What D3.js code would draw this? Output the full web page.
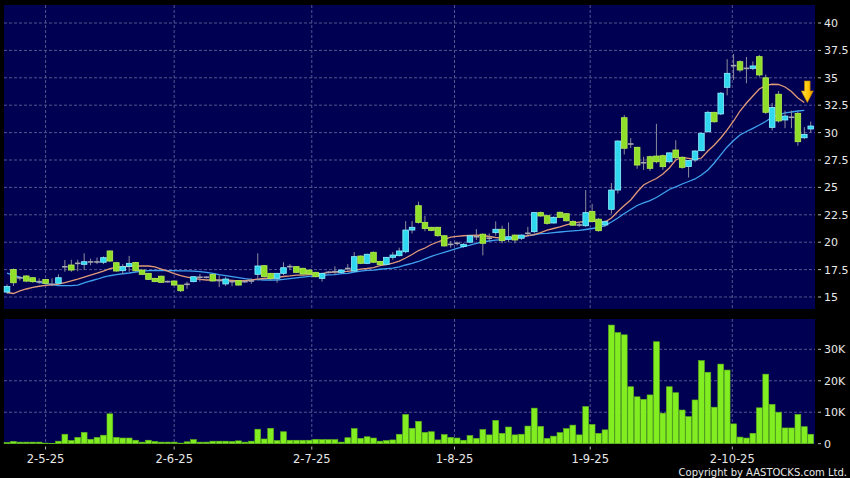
<!DOCTYPE html>
<html><head><meta charset="utf-8">
<script src="https://cdn.jsdelivr.net/npm/d3@7/dist/d3.min.js"></script>
<style>body{margin:0;background:#000;}svg{display:block;}</style>
</head><body>
<svg id="chart" width="850" height="478"></svg>
<script>
// ---- data ----
const opens  = [15.45,17.5,16.75,16.92,16.76,16.4,16.6,16.16,16.25,17.76,17.92,18.07,17.98,18.2,18.2,18.17,19.2,18.13,17.4,17.8,
 18.15,17.46,17.16,16.7,16.9,16.4,16.46,16.09,16.16,16.4,16.8,16.8,17.07,16.5,16.19,16.4,16.49,16.4,16.46,17.07,
 17.86,17.16,16.7,17.16,17.77,17.77,17.62,17.46,17.25,16.7,17.25,17.31,17.25,17.6,17.37,18.74,18.07,19.08,18.25,17.98,
 18.62,18.77,19.13,21.11,23.33,21.81,21.36,21.36,20.59,19.8,19.9,19.6,20.0,20.5,20.73,20.36,20.87,21.18,20.26,20.65,
 20.36,20.81,20.96,22.7,22.42,21.75,22.73,22.6,21.9,21.57,21.5,22.8,22.1,21.57,23.0,24.76,31.36,28.96,28.66,27.25,
 27.8,27.86,27.89,27.34,28.41,27.75,26.9,27.5,28.35,30.08,31.85,31.7,34.13,36.11,36.47,35.86,35.86,36.93,35.0,30.48,
 33.5,31.15,31.4,31.76,29.53,30.33];
const highs  = [16.15,17.6,16.9,17.0,16.8,16.7,16.65,16.7,17.07,18.38,18.4,18.4,18.99,18.5,18.6,18.7,19.25,18.2,18.0,18.75,
 18.2,17.5,17.2,16.75,16.95,16.5,16.5,16.1,16.4,16.9,17.1,16.9,17.1,17.0,16.85,16.45,16.5,16.5,16.7,18.99,
 17.9,17.2,17.2,18.17,18.0,17.8,17.65,17.5,17.3,17.2,17.35,17.8,17.5,18.0,19.1,18.8,18.95,19.15,18.3,18.65,
 19.1,19.5,21.93,21.93,23.7,22.4,21.4,21.4,20.65,20.1,20.05,19.9,20.6,21.2,20.8,20.8,21.9,21.5,21.8,20.7,
 20.7,21.4,22.75,22.8,22.5,22.35,22.8,22.65,22.0,21.8,24.76,23.5,22.2,22.0,25.4,29.3,31.6,29.5,28.7,27.8,
 27.9,30.8,28.0,28.2,29.3,27.8,27.5,28.4,30.0,32.0,31.9,33.7,36.7,37.17,36.6,36.9,36.5,37.1,35.3,32.7,
 33.8,32.0,32.0,31.9,30.5,31.0];
const lows   = [15.3,16.0,16.5,16.35,16.3,16.2,16.15,16.0,16.2,17.31,17.3,17.35,17.46,17.9,18.0,18.0,18.2,17.3,17.1,17.3,
 17.3,17.0,16.55,16.35,16.3,16.3,16.0,15.45,15.75,16.35,16.4,16.7,16.4,15.9,16.0,16.0,16.05,16.3,16.2,16.5,
 16.8,16.5,16.3,17.0,17.5,17.2,17.05,17.05,16.8,16.4,17.15,17.0,17.2,17.4,17.3,18.0,18.0,18.1,17.9,17.9,
 18.4,18.7,19.0,20.8,21.7,21.0,21.0,20.5,19.6,19.5,19.7,19.5,19.9,20.2,18.8,20.1,20.6,19.9,20.0,19.9,
 20.2,20.65,20.8,22.3,21.6,21.7,22.2,21.9,21.5,21.4,21.4,21.8,20.95,21.4,22.6,24.45,28.0,28.6,26.7,26.6,
 26.5,27.2,26.6,27.2,27.6,26.7,25.9,27.3,28.3,30.0,30.9,31.6,33.4,34.8,35.5,34.5,35.7,35.1,31.7,30.2,
 30.9,30.4,30.4,28.8,29.4,30.0];
const closes = [15.95,16.3,16.75,16.45,16.4,16.4,16.25,16.16,16.76,17.76,17.46,18.07,18.22,18.2,18.2,18.59,18.28,17.37,17.76,18.07,
 17.4,17.07,16.61,16.4,16.34,16.4,16.09,15.57,16.16,16.85,16.8,16.8,16.46,16.5,16.64,16.4,16.09,16.4,16.46,17.83,
 16.85,16.7,17.16,17.67,17.77,17.25,17.1,17.1,16.85,17.16,17.25,17.31,17.46,17.6,18.68,18.07,18.9,18.17,17.95,18.62,
 18.83,19.2,21.11,21.36,21.81,21.25,21.08,20.59,19.66,19.8,19.9,19.81,20.58,20.5,19.9,20.36,21.18,20.14,20.5,20.2,
 20.65,20.81,22.7,22.39,21.72,22.27,22.27,21.95,21.55,21.57,22.7,21.9,21.05,21.87,24.76,29.23,28.57,28.96,27.04,27.25,
 26.74,27.34,26.89,28.15,27.71,26.83,27.45,28.32,29.94,31.85,30.99,33.6,35.41,36.11,35.71,35.86,36.08,35.26,31.85,32.3,
 31.06,31.51,31.4,29.17,29.84,30.6];
// volume in thousands of shares
const volumes = [0.4,0.7,0.5,0.5,0.5,0.5,0.2,0.1,0.8,3.0,1.0,2.0,3.6,1.4,2.0,2.7,9.5,2.0,1.8,1.8,
 1.1,0.5,1.1,0.7,0.5,0.5,0.5,0.2,0.6,1.3,0.5,0.5,0.8,0.8,0.8,0.7,0.9,0.5,0.8,4.6,
 1.5,4.9,1.0,3.8,1.1,1.1,1.1,1.1,1.4,1.3,1.3,1.3,0.5,1.9,4.8,1.7,2.2,1.8,0.8,1.0,
 1.2,3.0,9.3,4.9,7.1,3.6,3.8,1.2,2.9,2.0,1.8,1.1,2.6,1.7,4.5,2.8,7.4,3.3,5.3,2.8,
 3.0,5.6,11.3,5.5,1.7,2.4,3.5,4.8,5.9,2.8,11.8,6.1,3.3,4.4,37.7,35.3,34.6,18.1,14.9,14.1,
 15.5,32.4,9.7,18.1,16.2,10.7,8.6,13.9,26.4,22.7,11.6,25.3,23.4,6.3,2.1,1.8,3.3,11.4,22.1,12.5,
 10.0,5.0,5.0,9.3,5.4,3.0];
const maShort = [15.41,15.32,15.55,15.73,15.88,15.98,16.07,16.11,16.17,16.32,16.48,16.64,16.82,17.0,17.17,17.37,17.58,17.71,17.76,17.8,
 17.83,17.83,17.83,17.74,17.55,17.37,17.14,16.94,16.82,16.71,16.61,16.55,16.55,16.55,16.55,16.51,16.46,16.5,16.55,16.64,
 16.69,16.73,16.8,16.87,16.92,16.99,17.0,17.05,17.08,17.14,17.24,17.28,17.31,17.33,17.42,17.54,17.6,17.69,17.86,17.95,
 18.1,18.28,18.56,18.88,19.24,19.47,19.79,20.02,20.25,20.46,20.54,20.59,20.63,20.65,20.61,20.52,20.43,20.38,20.36,20.38,
 20.47,20.61,20.7,20.88,21.11,21.25,21.39,21.57,21.73,21.84,21.89,21.93,21.89,21.84,22.21,22.8,23.35,23.85,24.58,25.22,
 25.54,25.81,26.22,26.77,27.5,27.73,27.64,27.55,27.68,28.32,28.87,29.51,30.24,31.06,31.97,32.7,33.34,33.98,34.3,34.41,
 34.39,34.16,33.75,33.16,32.75];
const maLong = [17.17,16.99,16.81,16.66,16.5,16.34,16.23,16.13,16.05,16.03,16.03,16.09,16.28,16.46,16.62,16.81,16.94,17.05,17.12,17.19,
 17.28,17.37,17.41,17.42,17.42,17.41,17.4,17.39,17.38,17.37,17.32,17.24,17.16,17.05,16.96,16.86,16.77,16.68,16.61,16.58,
 16.55,16.55,16.55,16.6,16.67,16.75,16.82,16.88,16.92,16.96,17.01,17.05,17.13,17.16,17.28,17.37,17.42,17.46,17.53,17.58,
 17.63,17.74,17.92,18.06,18.24,18.47,18.71,18.9,19.08,19.26,19.44,19.6,19.74,19.9,20.04,20.11,20.19,20.24,20.31,20.41,
 20.49,20.57,20.68,20.78,20.81,20.88,20.93,20.99,21.04,21.07,21.16,21.25,21.34,21.52,21.84,22.21,22.62,22.98,23.35,23.58,
 23.79,24.08,24.44,24.81,25.04,25.31,25.54,25.77,26.13,26.59,27.23,27.96,28.69,29.28,29.78,30.1,30.39,30.69,31.01,31.42,
 31.61,31.79,31.88,31.97,32.03];
const priceTicks = [15,17.5,20,22.5,25,27.5,30,32.5,35,37.5,40];
const priceTickLabels = ["15","17.5","20","22.5","25","27.5","30","32.5","35","37.5","40"];
const volTicks = [0,10,20,30];
const volTickLabels = ["0","10K","20K","30K"];
const dateTickPos = [6,26,47.4,69.6,90.7,112.8];
const dateTickLabels = ["2-5-25","2-6-25","2-7-25","1-8-25","1-9-25","2-10-25"];
const copyright = "Copyright by AASTOCKS.com Ltd.";

// ---- drawing ----
const svg = d3.select("#chart");
const W = 850, H = 478;
const plotL = 4, plotR = 815;
const pTop = 5, pBot = 309, vTop = 319, vBot = 444;
const n = closes.length;
const x = d3.scaleLinear().domain([0, n - 1]).range([7, 810.75]);
const step = x(1) - x(0);
const yP = d3.scaleLinear().domain([15, 40]).range([297, 23]);
const yV = d3.scaleLinear().domain([0, 30]).range([443.7, 349.3]);
const font = "DejaVu Sans, Verdana, sans-serif";
const gridCol = "#55558f";

svg.append("rect").attr("width", W).attr("height", H).attr("fill", "#000");
svg.append("rect").attr("x", plotL).attr("y", pTop).attr("width", plotR - plotL).attr("height", pBot - pTop).attr("fill", "#000052");
svg.append("rect").attr("x", plotL).attr("y", vTop).attr("width", plotR - plotL).attr("height", vBot - vTop).attr("fill", "#000052");

// grids
const gP = svg.append("g");
gP.selectAll("line.h").data(priceTicks).join("line")
  .attr("x1", plotL).attr("x2", plotR).attr("y1", d => yP(d)).attr("y2", d => yP(d))
  .attr("stroke", gridCol).attr("stroke-dasharray", "3,2").attr("stroke-width", 1);
gP.selectAll("line.hv").data(volTicks.slice(1)).join("line")
  .attr("x1", plotL).attr("x2", plotR).attr("y1", d => yV(d)).attr("y2", d => yV(d))
  .attr("stroke", gridCol).attr("stroke-dasharray", "3,2").attr("stroke-width", 1);
dateTickPos.forEach(p => {
  [[pTop, pBot], [vTop, vBot]].forEach(([a, b]) => {
    gP.append("line").attr("x1", x(p)).attr("x2", x(p)).attr("y1", a).attr("y2", b)
      .attr("stroke", gridCol).attr("stroke-dasharray", "3,2").attr("stroke-width", 1);
  });
});

// volume bars
svg.append("g").selectAll("rect").data(volumes).join("rect")
  .attr("x", (d, i) => x(i) - 2.9).attr("width", 5.8)
  .attr("y", d => yV(d)).attr("height", d => yV(0) - yV(d))
  .attr("fill", "#82ee22").attr("stroke", "#5fb818").attr("stroke-width", 0.6);

// MA lines
const clipId = "pclip";
svg.append("clipPath").attr("id", clipId).append("rect")
  .attr("x", plotL).attr("y", pTop).attr("width", plotR - plotL).attr("height", pBot - pTop);
const line = d3.line().x((d, i) => x(i)).y(d => yP(d));
svg.append("path").datum(maLong).attr("d", line).attr("fill", "none")
  .attr("stroke", "#3fa2f0").attr("stroke-width", 1.3).attr("clip-path", `url(#${clipId})`);
svg.append("path").datum(maShort).attr("d", line).attr("fill", "none")
  .attr("stroke", "#e09a78").attr("stroke-width", 1.3).attr("clip-path", `url(#${clipId})`);

// candles
const cg = svg.append("g");
const idx = d3.range(n);
cg.selectAll("line.wick").data(idx).join("line")
  .attr("x1", i => x(i)).attr("x2", i => x(i))
  .attr("y1", i => yP(highs[i])).attr("y2", i => yP(lows[i]))
  .attr("stroke", "#8c8c9c").attr("stroke-width", 1);
idx.forEach(i => {
  const o = opens[i], c = closes[i];
  const cx = x(i), bw = 5.6;
  if (Math.abs(c - o) < 0.05) {
    cg.append("line").attr("x1", cx - bw / 2).attr("x2", cx + bw / 2)
      .attr("y1", yP(o)).attr("y2", yP(o)).attr("stroke", "#a8a8b0").attr("stroke-width", 1.6);
  } else {
    const up = c > o;
    const top = yP(Math.max(o, c)), bot = yP(Math.min(o, c));
    cg.append("rect").attr("x", cx - bw / 2).attr("width", bw)
      .attr("y", top).attr("height", Math.max(1.5, bot - top))
      .attr("fill", up ? "#2fd8ef" : "#8ede2a")
      .attr("stroke", up ? "#8ff2ff" : "#b8f050").attr("stroke-width", 0.8);
  }
});

// arrow at end of short MA
const ax = x(maShort.length - 1) + 3, ay = yP(maShort[maShort.length - 1]);
const defs = svg.append("defs");
const grad = defs.append("linearGradient").attr("id", "ag").attr("x1", 0).attr("x2", 1).attr("y1", 0).attr("y2", 0);
grad.append("stop").attr("offset", "0%").attr("stop-color", "#ffe34a");
grad.append("stop").attr("offset", "60%").attr("stop-color", "#ffc400");
grad.append("stop").attr("offset", "100%").attr("stop-color", "#d98a00");
const ap = d3.path();
ap.moveTo(ax - 2.8, ay - 21.5); ap.lineTo(ax + 2.8, ay - 21.5); ap.lineTo(ax + 2.8, ay - 11.5);
ap.lineTo(ax + 6, ay - 11.5); ap.lineTo(ax, ay); ap.lineTo(ax - 6, ay - 11.5);
ap.lineTo(ax - 2.8, ay - 11.5); ap.closePath();
svg.append("path").attr("d", ap.toString()).attr("fill", "url(#ag)").attr("stroke", "#c88400").attr("stroke-width", 0.6);

// y axes (right)
const ya = svg.append("g").attr("font-family", font).attr("font-size", 11).attr("fill", "#e8e8e8");
priceTicks.forEach((t, k) => {
  ya.append("line").attr("x1", 818).attr("x2", 821).attr("y1", yP(t)).attr("y2", yP(t)).attr("stroke", "#bbb");
  ya.append("text").attr("x", 824).attr("y", yP(t)).attr("dy", "0.36em").text(priceTickLabels[k]);
});
volTicks.forEach((t, k) => {
  ya.append("line").attr("x1", 818).attr("x2", 821).attr("y1", yV(t)).attr("y2", yV(t)).attr("stroke", "#bbb");
  ya.append("text").attr("x", 824).attr("y", yV(t)).attr("dy", "0.36em").text(volTickLabels[k]);
});

// x axis labels
const xa = svg.append("g").attr("font-family", font).attr("font-size", 11.5).attr("fill", "#e8e8e8");
dateTickPos.forEach((p, k) => {
  xa.append("line").attr("x1", x(p)).attr("x2", x(p)).attr("y1", 446.5).attr("y2", 449.5).attr("stroke", "#bbb");
  xa.append("text").attr("x", x(p)).attr("y", 462.5).attr("text-anchor", "middle").text(dateTickLabels[k]);
});
svg.append("text").attr("x", 847).attr("y", 475.5).attr("text-anchor", "end")
  .attr("font-family", font).attr("font-size", 10).attr("fill", "#e8e8e8").text(copyright);
</script>
</body></html>
